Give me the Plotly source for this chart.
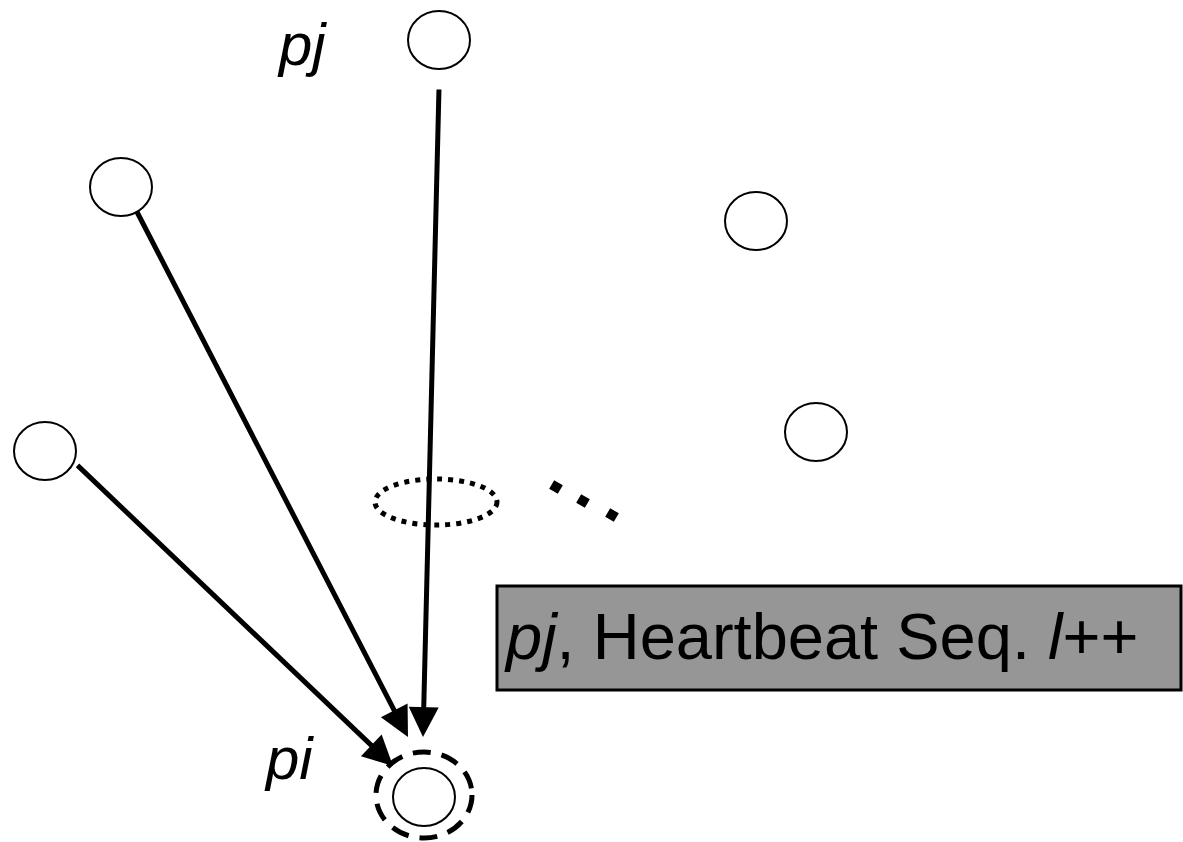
import plotly.graph_objects as go

W, H = 1183, 842

# Node centres (px) and radii
node_x = [439, 121, 45, 756, 816, 424]
node_y = [40, 187, 451, 221, 432, 797]
node_rx = 31
node_ry = 29

# Dashed ring around pi
ring = dict(cx=424, cy=795, rx=48, ry=43)
# Dotted ellipse
dot_ell = dict(cx=436, cy=502, rx=61, ry=23)
# Ellipsis dots
ell_x = [556, 583, 612]
ell_y = [487, 501, 515]

# Arrows: tail -> tip
arrow_tail_x = [439, 136, 76]
arrow_tail_y = [88, 210, 464]
arrow_tip_x = [423, 408, 393]
arrow_tip_y = [737, 737, 766]

# Labels
labels = ["<i>pj</i>", "<i>pi</i>"]
label_x = [302, 289]
label_y = [44, 758]

box = dict(x0=497, x1=1181, y0=586, y1=690)
box_text = "<i>pj</i>, Heartbeat Seq. <i>l</i>++"

fig = go.Figure()

shapes = []
for cx, cy in zip(node_x, node_y):
    shapes.append(dict(type="circle", xref="x", yref="y",
                       x0=cx - node_rx, x1=cx + node_rx, y0=cy - node_ry, y1=cy + node_ry,
                       line=dict(color="black", width=2), fillcolor="white", layer="above"))
shapes.append(dict(type="circle", xref="x", yref="y",
                   x0=ring["cx"] - ring["rx"], x1=ring["cx"] + ring["rx"],
                   y0=ring["cy"] - ring["ry"], y1=ring["cy"] + ring["ry"],
                   line=dict(color="black", width=5, dash="18px,11px")))
shapes.append(dict(type="circle", xref="x", yref="y",
                   x0=dot_ell["cx"] - dot_ell["rx"], x1=dot_ell["cx"] + dot_ell["rx"],
                   y0=dot_ell["cy"] - dot_ell["ry"], y1=dot_ell["cy"] + dot_ell["ry"],
                   line=dict(color="black", width=5, dash="5px,6px")))
shapes.append(dict(type="rect", xref="x", yref="y", **box,
                   line=dict(color="black", width=3), fillcolor="#969696"))

fig.add_trace(go.Scatter(x=ell_x, y=ell_y, mode="markers",
                         marker=dict(symbol="square", size=10, color="black", angle=30),
                         hoverinfo="skip", showlegend=False))

annotations = []
for tx, ty, hx, hy in zip(arrow_tail_x, arrow_tail_y, arrow_tip_x, arrow_tip_y):
    annotations.append(dict(x=hx, y=hy, ax=tx, ay=ty, xref="x", yref="y", axref="x", ayref="y",
                            text="", showarrow=True, arrowhead=2, arrowsize=1.2,
                            arrowwidth=5, arrowcolor="black", standoff=0))
for t, lx, ly in zip(labels, label_x, label_y):
    annotations.append(dict(x=lx, y=ly, xref="x", yref="y", text=t, showarrow=False,
                            font=dict(family="Liberation Sans, Arial", size=60, color="black")))
annotations.append(dict(x=(box["x0"] + box["x1"]) / 2 - 18, y=(box["y0"] + box["y1"]) / 2 - 2,
                        xref="x", yref="y", text=box_text, showarrow=False,
                        font=dict(family="Liberation Sans, Arial", size=65, color="black")))

fig.update_layout(width=W, height=H, margin=dict(l=0, r=0, t=0, b=0),
                  paper_bgcolor="white", plot_bgcolor="white",
                  shapes=shapes, annotations=annotations, showlegend=False,
                  hovermode=False,
                  xaxis=dict(range=[0, W], visible=False, fixedrange=True),
                  yaxis=dict(range=[H, 0], visible=False, fixedrange=True))

fig.write_html("out.html", config={"displayModeBar": False},
               post_script="document.body.style.margin='0';document.body.style.overflow='hidden';")
